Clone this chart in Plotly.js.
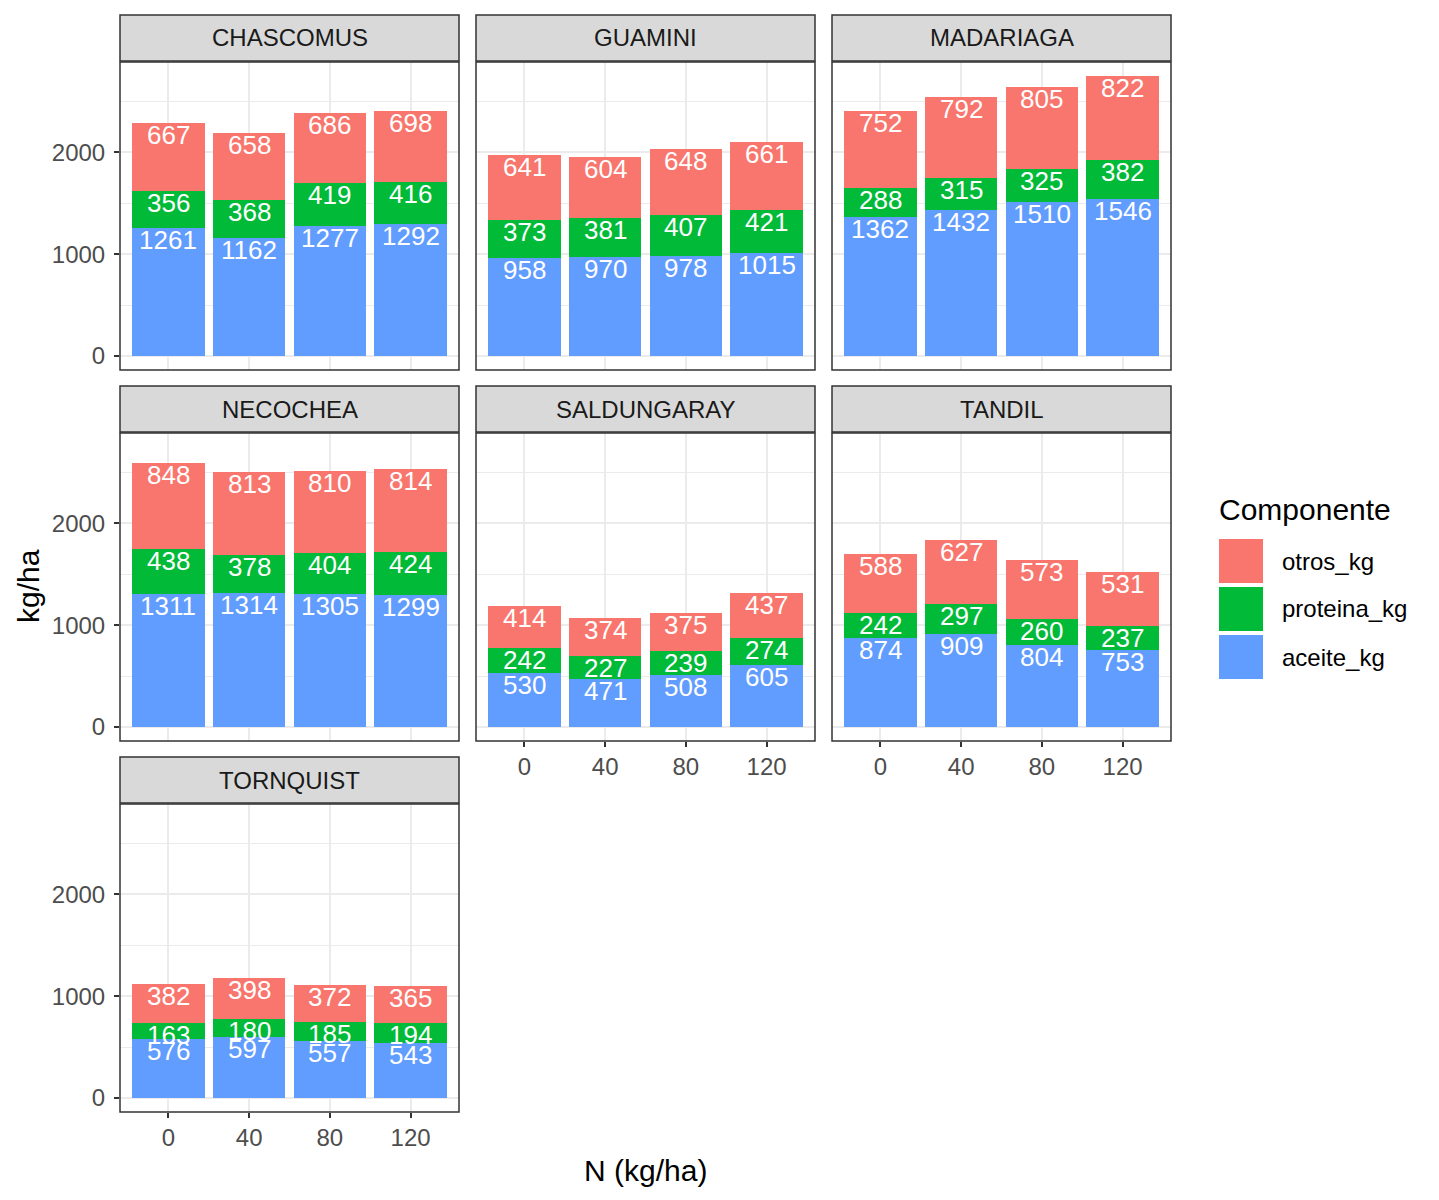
<!DOCTYPE html>
<html>
<head>
<meta charset="utf-8">
<script src="https://cdn.plot.ly/plotly-3.0.1.min.js"></script>
<style>html,body{margin:0;padding:0;background:#fff;}#chart{width:1439px;height:1200px;}</style>
</head>
<body>
<div id="chart"></div>
<script>
// ---- data ----
const facets = ["CHASCOMUS", "GUAMINI", "MADARIAGA", "NECOCHEA", "SALDUNGARAY", "TANDIL", "TORNQUIST"];
const nLevels = ["0", "40", "80", "120"];
const aceite_kg = [
  [1261, 1162, 1277, 1292],
  [958, 970, 978, 1015],
  [1362, 1432, 1510, 1546],
  [1311, 1314, 1305, 1299],
  [530, 471, 508, 605],
  [874, 909, 804, 753],
  [576, 597, 557, 543]
];
const proteina_kg = [
  [356, 368, 419, 416],
  [373, 381, 407, 421],
  [288, 315, 325, 382],
  [438, 378, 404, 424],
  [242, 227, 239, 274],
  [242, 297, 260, 237],
  [163, 180, 185, 194]
];
const otros_kg = [
  [667, 658, 686, 698],
  [641, 604, 648, 661],
  [752, 792, 805, 822],
  [848, 813, 810, 814],
  [414, 374, 375, 437],
  [588, 627, 573, 531],
  [382, 398, 372, 365]
];
const legendTitle = "Componente";
const legendNames = ["otros_kg", "proteina_kg", "aceite_kg"];
const xTitle = "N (kg/ha)";
const yTitle = "kg/ha";

// ---- styling ----
const W = 1439, H = 1200;
const FONT = "Liberation Sans, Arial, Helvetica, sans-serif";
const colors = {aceite: "#619CFF", proteina: "#00BA38", otros: "#F8766D"};
const colX = [[120, 459], [476, 815], [832, 1171]];
const rowY = [[62, 370], [433, 741], [804, 1112]];
const px = v => v / W;
const py = v => 1 - v / H;

let maxTotal = 0;
facets.forEach((f, k) => nLevels.forEach((n, j) => {
  maxTotal = Math.max(maxTotal, aceite_kg[k][j] + proteina_kg[k][j] + otros_kg[k][j]);
}));
const yRange = [-0.05 * maxTotal, 1.05 * maxTotal];

const traces = [];
const annotations = [];
const shapes = [];
const layout = {
  width: W, height: H,
  margin: {l: 0, r: 0, t: 0, b: 0},
  paper_bgcolor: "#ffffff", plot_bgcolor: "rgba(0,0,0,0)",
  barmode: "stack", bargap: 0,
  showlegend: false,
  font: {family: FONT}
};

facets.forEach((f, k) => {
  const col = k % 3, row = Math.floor(k / 3);
  const s = k === 0 ? "" : String(k + 1);
  const xa = "x" + s, ya = "y" + s;
  const showX = (k >= 4);
  const showY = (col === 0);
  const [x0, x1] = colX[col];
  const [y0, y1] = rowY[row];

  layout["xaxis" + s] = {
    domain: [px(x0), px(x1)], anchor: ya,
    type: "category", categoryorder: "array", categoryarray: nLevels,
    range: [-0.6, 3.6], fixedrange: true,
    showgrid: true, gridcolor: "#EBEBEB", gridwidth: 2,
    zeroline: false, showline: false,
    showticklabels: showX, ticks: showX ? "outside" : "",
    ticklen: 5, tickwidth: 2, tickcolor: "#333333",
    ticklabelstandoff: -1,
    tickfont: {family: FONT, size: 24, color: "#4D4D4D"}
  };
  layout["yaxis" + s] = {
    domain: [py(y1), py(y0)], anchor: xa,
    range: yRange, fixedrange: true,
    tick0: 0, dtick: 1000,
    showgrid: true, gridcolor: "#EBEBEB", gridwidth: 2,
    minor: {tick0: 0, dtick: 500, showgrid: true, gridcolor: "#EBEBEB", gridwidth: 1, ticks: ""},
    zeroline: false, showline: false,
    showticklabels: showY, ticks: showY ? "outside" : "",
    ticklen: 5, tickwidth: 2, tickcolor: "#333333",
    ticklabelstandoff: 4,
    tickfont: {family: FONT, size: 24, color: "#4D4D4D"}
  };

  const comps = [
    {vals: aceite_kg[k], color: colors.aceite, name: "aceite_kg"},
    {vals: proteina_kg[k], color: colors.proteina, name: "proteina_kg"},
    {vals: otros_kg[k], color: colors.otros, name: "otros_kg"}
  ];
  const cum = [0, 0, 0, 0];
  comps.forEach(c => {
    traces.push({
      type: "bar", x: nLevels, y: c.vals, name: c.name,
      xaxis: xa, yaxis: ya, width: 0.9,
      marker: {color: c.color, line: {width: 0}},
      hoverinfo: "skip", showlegend: false
    });
    c.vals.forEach((v, j) => {
      cum[j] += v;
      annotations.push({
        xref: xa, yref: ya, x: j, y: cum[j],
        text: String(v), showarrow: false,
        xanchor: "center", yanchor: "top", yshift: 5,
        font: {family: FONT, size: 26, color: "#ffffff"}
      });
    });
  });

  // panel border
  shapes.push({type: "rect", xref: "paper", yref: "paper",
    x0: px(x0), x1: px(x1), y0: py(y1), y1: py(y0),
    line: {color: "#333333", width: 1.5}, fillcolor: "rgba(0,0,0,0)", layer: "above"});
  // strip
  const sTop = y0 - 47, sBot = y0 - 1;
  shapes.push({type: "rect", xref: "paper", yref: "paper",
    x0: px(x0), x1: px(x1), y0: py(sBot), y1: py(sTop),
    line: {color: "#333333", width: 1.5}, fillcolor: "#D9D9D9", layer: "above"});
  annotations.push({xref: "paper", yref: "paper", x: px((x0 + x1) / 2), y: py((sTop + sBot) / 2),
    text: f, showarrow: false, xanchor: "center", yanchor: "middle",
    font: {family: FONT, size: 24, color: "#1A1A1A"}});
});

// axis titles
annotations.push({xref: "paper", yref: "paper", x: px(645), y: py(1170), text: xTitle,
  showarrow: false, xanchor: "center", yanchor: "middle", font: {family: FONT, size: 30, color: "#000000"}});
annotations.push({xref: "paper", yref: "paper", x: px(28), y: py(586), text: yTitle, textangle: -90,
  showarrow: false, xanchor: "center", yanchor: "middle", font: {family: FONT, size: 30, color: "#000000"}});

// legend (drawn manually)
annotations.push({xref: "paper", yref: "paper", x: px(1217), y: py(509), text: legendTitle,
  showarrow: false, xanchor: "left", yanchor: "middle", font: {family: FONT, size: 30, color: "#000000"}});
const legColors = [colors.otros, colors.proteina, colors.aceite];
legendNames.forEach((nm, i) => {
  const top = 539 + i * 48;
  shapes.push({type: "rect", xref: "paper", yref: "paper",
    x0: px(1219), x1: px(1263), y0: py(top + 44), y1: py(top),
    line: {width: 0}, fillcolor: legColors[i]});
  annotations.push({xref: "paper", yref: "paper", x: px(1280), y: py(top + 22), text: nm,
    showarrow: false, xanchor: "left", yanchor: "middle", font: {family: FONT, size: 24, color: "#000000"}});
});

layout.annotations = annotations;
layout.shapes = shapes;
Plotly.newPlot("chart", traces, layout, {staticPlot: true, displayModeBar: false});
</script>
</body>
</html>
